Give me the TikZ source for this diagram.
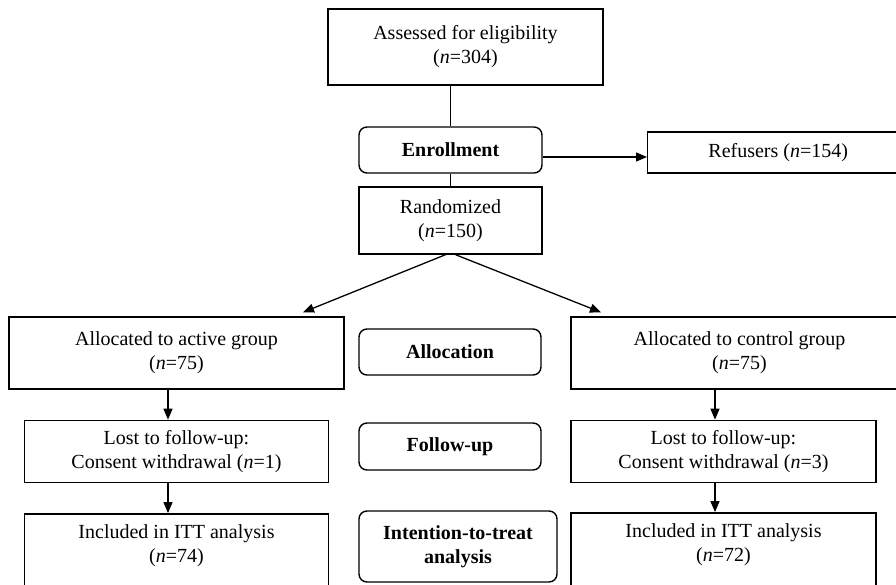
\documentclass[tikz,border=0pt]{standalone}
\usepackage{fontspec}
\setmainfont{Liberation Serif}
\usepackage{tikz}
\usetikzlibrary{arrows.meta,positioning,calc}

\begin{document}
\begin{tikzpicture}[
  x=1pt, y=-1pt,
  font=\fontsize{20}{24}\selectfont,
  box/.style={draw, line width=1.4pt, align=center, inner sep=0pt},
  phase/.style={draw, line width=1.4pt, rounded corners=8pt, align=center, inner sep=0pt, font=\fontsize{20}{24}\selectfont\bfseries},
  arr/.style={-{Triangle[length=11pt,width=9pt]}, line width=1.3pt},
  lnk/.style={line width=1.3pt}
]
\useasboundingbox (0,0) rectangle (896,585);

% enrollment
\node[box, minimum width=275pt, minimum height=76pt] (elig) at (465.5,47) {Assessed for eligibility\\(\textit{n}=304)};
\node[phase, minimum width=183pt, minimum height=46pt] (enrol) at (450.5,150) {Enrollment};
\node[box, minimum width=261pt, minimum height=41pt, anchor=west] (refuse) at (647,152.5) {Refusers (\textit{n}=154)};
\node[box, minimum width=183pt, minimum height=67pt] (rand) at (450.5,220.5) {Randomized\\(\textit{n}=150)};

% two arms
\node[box, minimum width=335pt, minimum height=72pt] (act) at (176.5,353) {Allocated to active group\\(\textit{n}=75)};
\node[box, minimum width=337pt, minimum height=72pt] (ctrl) at (739.5,353) {Allocated to control group\\(\textit{n}=75)};
\node[box, minimum width=304pt, minimum height=62pt, below=30pt of act] (lostA) {Lost to follow-up:\\Consent withdrawal (\textit{n}=1)};
\node[box, minimum width=305pt, minimum height=62pt, below=30pt of ctrl.south west, anchor=north west] (lostB) {Lost to follow-up:\\Consent withdrawal (\textit{n}=3)};
\node[box, minimum width=304pt, minimum height=84pt, text depth=24pt, below=30pt of lostA] (incA) {Included in ITT analysis\\(\textit{n}=74)};
\node[box, minimum width=305pt, minimum height=84pt, text depth=24pt, below=29pt of lostB.south west, anchor=north west] (incB) {Included in ITT analysis\\(\textit{n}=72)};

% phase labels
\node[phase, minimum width=182pt, minimum height=46pt] (alloc) at (450,352) {Allocation};
\node[phase, minimum width=182pt, minimum height=47pt] (follow) at (450,446.5) {Follow-up};
\node[phase, minimum width=198pt, minimum height=71pt] (itt) at (458,546.5) {Intention-to-treat\\analysis};

\draw[lnk] (enrol.north |- elig.south) -- (enrol.north);
\draw[lnk] (enrol) -- (rand);
\draw[arr] ([yshift=-7pt]enrol.east) -- ([yshift=-7pt]enrol.east -| refuse.west);
\draw[arr] ([xshift=-5pt]rand.south) -- ([xshift=126.5pt,yshift=4pt]act.north);
\draw[arr] ([xshift=5pt]rand.south) -- ([xshift=-138.5pt,yshift=4pt]ctrl.north);
\draw[arr] ([xshift=-8.5pt]act.south) -- ([xshift=-8.5pt]act.south |- lostA.north);
\draw[arr] ([xshift=-8.5pt]lostA.south) -- ([xshift=-8.5pt]lostA.south |- incA.north);
\draw[arr] ([xshift=-8.5pt]lostB.north |- ctrl.south) -- ([xshift=-8.5pt]lostB.north);
\draw[arr] ([xshift=-8.5pt]lostB.south) -- ([xshift=-8.5pt]lostB.south |- incB.north);
\end{tikzpicture}
\end{document}
